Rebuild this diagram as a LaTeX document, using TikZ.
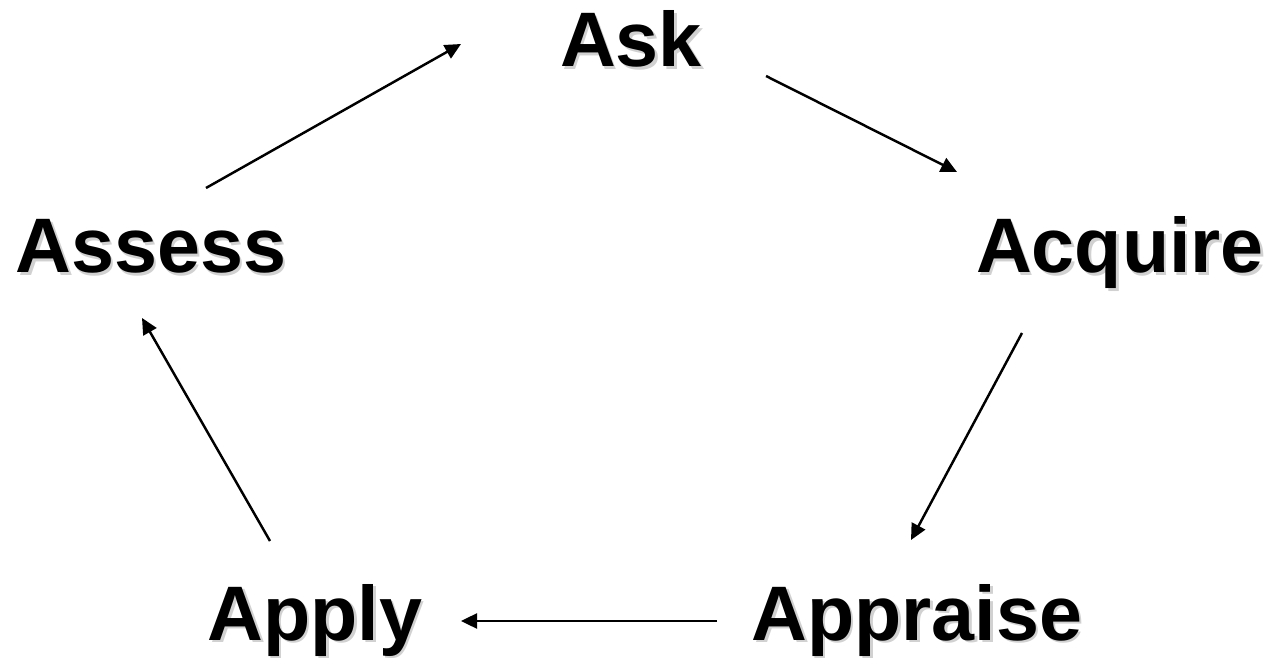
\documentclass[tikz,border=0pt]{standalone}
\usepackage{fontspec}
\setmainfont{Liberation Sans}
\usetikzlibrary{arrows.meta}
\newcommand{\stagefont}{\fontsize{44}{48}\selectfont\bfseries}
% shadowed label: name, position, text
\newcommand{\stage}[3]{%
   \node[stage,text=black!18] at ([shift={(2.5,2.5)}]#2) {#3};
   \node[stage] (#1) at (#2) {#3};}

\begin{document}
\begin{tikzpicture}[x=0.02cm,y=-0.02cm,
   stage/.style={font=\stagefont,inner sep=0pt,anchor=base},
   cyc/.style={line width=1.4pt,-{Triangle[length=0.32cm,width=0.3cm]}}]
   \useasboundingbox (0,0) rectangle (1271,658);
   \stage{ask}{631,67}{Ask}
   \stage{acquire}{1120,273}{Acquire}
   \stage{appraise}{917,640}{Appraise}
   \stage{apply}{315,640}{Apply}
   \stage{assess}{151,273}{Assess}
   % arrow ends
   \coordinate (ask-in)      at (461,44);
   \coordinate (ask-out)     at (766,76);
   \coordinate (acquire-in)  at (957,172);
   \coordinate (acquire-out) at (1022,333);
   \coordinate (appraise-in) at (911,540);
   \coordinate (appraise-out)at (717,621);
   \coordinate (apply-in)    at (461,621);
   \coordinate (apply-out)   at (270,541);
   \coordinate (assess-in)   at (142,318);
   \coordinate (assess-out)  at (206,188);
   \draw[cyc] (assess-out) -- (ask-in);
   \draw[cyc] (ask-out) -- (acquire-in);
   \draw[cyc] (acquire-out) -- (appraise-in);
   \draw[cyc] (appraise-out) -- (apply-in);
   \draw[cyc] (apply-out) -- (assess-in);
\end{tikzpicture}
\end{document}
